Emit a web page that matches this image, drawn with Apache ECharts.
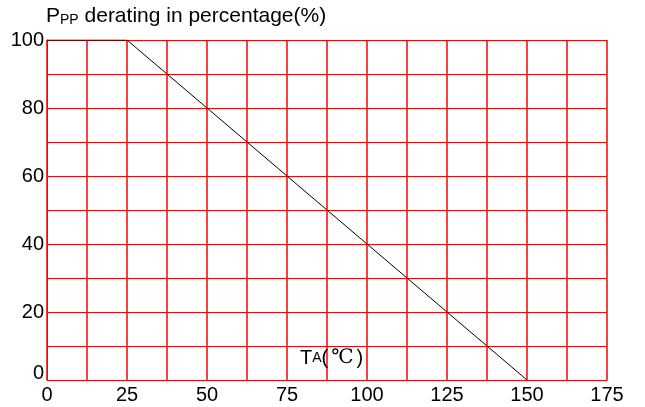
<!DOCTYPE html>
<html>
<head>
<meta charset="utf-8">
<script src="https://cdn.jsdelivr.net/npm/echarts@6/dist/echarts.min.js"></script>
<style>html,body{margin:0;padding:0;background:#fff}#c{width:645px;height:407px}</style>
</head>
<body>
<div id="c"></div>
<script>
var curveX = [0, 25, 150];
var curveY = [100, 100, 0];
var xTickLabels = [0, 25, 50, 75, 100, 125, 150, 175];
var yTickLabels = [0, 20, 40, 60, 80, 100];

var chart = echarts.init(document.getElementById('c'), null, {renderer: 'canvas', devicePixelRatio: 1});
var FONT = '"Liberation Sans", Arial, sans-serif';
var pts = curveX.map(function (x, i) { return [x, curveY[i]]; });
chart.setOption({
  animation: false,
  backgroundColor: '#fff',
  grid: {left: 47, right: 38, top: 40, bottom: 27, containLabel: false},
  xAxis: {
    type: 'value', min: 0, max: 175, interval: 12.5,
    axisLine: {show: true, lineStyle: {color: '#ff0000', width: 1}},
    axisTick: {show: false},
    splitLine: {show: true, showMinLine: true, showMaxLine: true, lineStyle: {color: '#ff0000', width: 1.5}},
    axisLabel: {
      color: '#000', fontFamily: FONT, fontSize: 20, margin: 5,
      formatter: function (v) { return xTickLabels.indexOf(v) >= 0 ? String(v) : ''; }
    }
  },
  yAxis: {
    type: 'value', min: 0, max: 100, interval: 10,
    axisLine: {show: true, lineStyle: {color: '#ff0000', width: 1}},
    axisTick: {show: false},
    splitLine: {show: true, showMinLine: true, showMaxLine: true, lineStyle: {color: '#ff0000', width: 1}},
    axisLabel: {
      color: '#000', fontFamily: FONT, fontSize: 20, margin: 3,
      formatter: function (v) {
        if (yTickLabels.indexOf(v) < 0) return '';
        return v === 0 ? '{z|0}' : String(v);
      },
      rich: {z: {fontSize: 20, fontFamily: FONT, color: '#000', padding: [0, 0, 14, 0]}}
    }
  },
  series: [{
    type: 'line', data: pts, symbol: 'none',
    lineStyle: {color: '#000', width: 1}, z: 5
  }],
  graphic: [
    {
      type: 'text', left: 46, top: 6, z: 10,
      style: {
        text: '{a|P}{b|PP}{a| derating in percentage(%)}',
        rich: {
          a: {fontSize: 21, fontFamily: FONT, fill: '#000', color: '#000'},
          b: {fontSize: 14, fontFamily: FONT, fill: '#000', color: '#000', verticalAlign: 'bottom'}
        }
      }
    },
    {
      type: 'text', left: 300, top: 348, z: 10,
      style: {
        text: '{a|T}{b|A}{a|(}{c|℃}{a|)}',
        rich: {
          a: {fontSize: 20, fontFamily: FONT, fill: '#000', color: '#000'},
          b: {fontSize: 14, fontFamily: FONT, fill: '#000', color: '#000'},
          c: {fontSize: 20, fontFamily: '"DejaVu Serif", serif', fill: '#000', color: '#000', padding: [0, 3, 0, 3]}
        }
      }
    }
  ]
});
</script>
</body>
</html>
